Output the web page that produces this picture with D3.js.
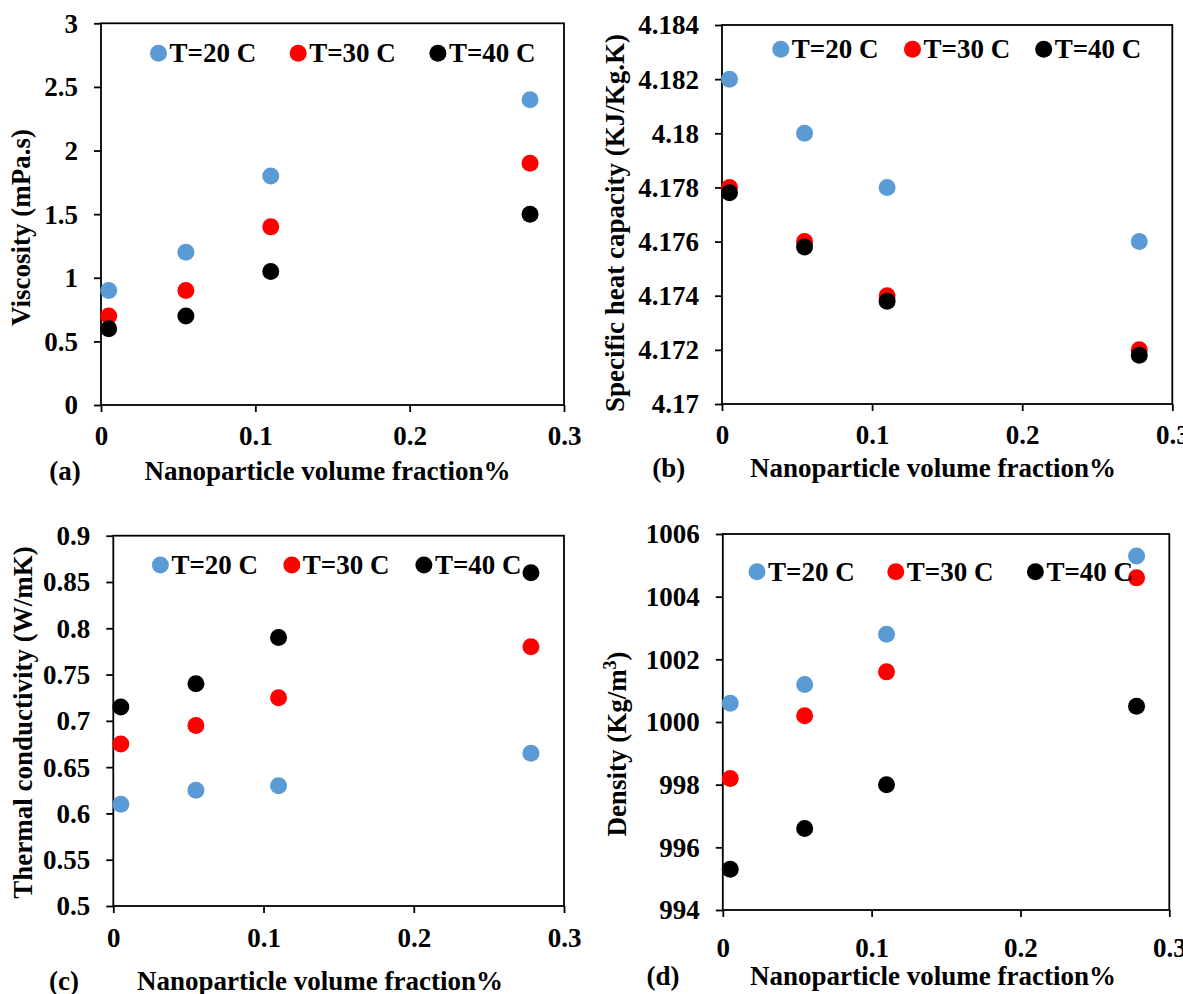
<!DOCTYPE html>
<html>
<head>
<meta charset="utf-8">
<script src="https://cdn.jsdelivr.net/npm/d3@7"></script>
<style>
  html, body { margin: 0; padding: 0; background: #ffffff; }
  svg { display: block; }
  text { font-family: "Liberation Serif", "Times New Roman", serif; font-weight: bold; fill: #000; }
</style>
</head>
<body>
<svg id="chart" width="1183" height="994"></svg>
<script>
// ---------------- data ----------------
const xValues = [0.005, 0.055, 0.11, 0.278];
const seriesNames = ["T=20 C", "T=30 C", "T=40 C"];
const seriesColors = ["#5B9BD5", "#FF0000", "#000000"];
const xTickValues = [0, 0.1, 0.2, 0.3];
const xTickLabels = ["0", "0.1", "0.2", "0.3"];

const viscosityT20 = [0.9, 1.2, 1.8, 2.4];
const viscosityT30 = [0.7, 0.9, 1.4, 1.9];
const viscosityT40 = [0.6, 0.7, 1.05, 1.5];
const viscosityTicks = [0, 0.5, 1, 1.5, 2, 2.5, 3];
const viscosityTickLabels = ["0", "0.5", "1", "1.5", "2", "2.5", "3"];

const heatCapT20 = [4.182, 4.180, 4.178, 4.176];
const heatCapT30 = [4.178, 4.176, 4.174, 4.172];
const heatCapT40 = [4.1778, 4.1758, 4.1738, 4.1718];
const heatCapTicks = [4.170, 4.172, 4.174, 4.176, 4.178, 4.180, 4.182, 4.184];
const heatCapTickLabels = ["4.17", "4.172", "4.174", "4.176", "4.178", "4.18", "4.182", "4.184"];

const conductivityT20 = [0.61, 0.625, 0.63, 0.665];
const conductivityT30 = [0.675, 0.695, 0.725, 0.78];
const conductivityT40 = [0.715, 0.74, 0.79, 0.86];
const conductivityTicks = [0.5, 0.55, 0.6, 0.65, 0.7, 0.75, 0.8, 0.85, 0.9];
const conductivityTickLabels = ["0.5", "0.55", "0.6", "0.65", "0.7", "0.75", "0.8", "0.85", "0.9"];

const densityT20 = [1000.6, 1001.2, 1002.8, 1005.3];
const densityT30 = [998.2, 1000.2, 1001.6, 1004.6];
const densityT40 = [995.3, 996.6, 998.0, 1000.5];
const densityTicks = [994, 996, 998, 1000, 1002, 1004, 1006];
const densityTickLabels = ["994", "996", "998", "1000", "1002", "1004", "1006"];

// ---------------- layout ----------------
const FS = 27;
const R = 8.5;
const panels = [
  { tag: "(a)", series: [viscosityT20, viscosityT30, viscosityT40],
    yTicks: viscosityTicks, yLabels: viscosityTickLabels, yTitle: ["Viscosity (mPa.s)"],
    x0: 101, x1: 564, y0: 23.3, y1: 405,
    yTitleX: 30, yTitleY: 227.5, xTitleX: 327.5, xTitleY: 480, tagX: 65,
    xLabelBase: 40, legendY: 53.3, legendX: [158.5, 298.2, 437.9] },
  { tag: "(b)", series: [heatCapT20, heatCapT30, heatCapT40],
    yTicks: heatCapTicks, yLabels: heatCapTickLabels, yTitle: ["Specific heat capacity (KJ/Kg.K)"],
    x0: 722, x1: 1172.3, y0: 25, y1: 404,
    yTitleX: 624, yTitleY: 223, xTitleX: 933, xTitleY: 476.5, tagX: 668.7,
    xLabelBase: 39.5, legendY: 49.3, legendX: [780.8, 912.5, 1043.7] },
  { tag: "(c)", series: [conductivityT20, conductivityT30, conductivityT40],
    yTicks: conductivityTicks, yLabels: conductivityTickLabels, yTitle: ["Thermal conductivity (W/mK)"],
    x0: 113.3, x1: 564, y0: 535.7, y1: 906,
    yTitleX: 32, yTitleY: 722.5, xTitleX: 320, xTitleY: 990, tagX: 64,
    xLabelBase: 40.5, legendY: 565, legendX: [160.4, 291.8, 423.9] },
  { tag: "(d)", series: [densityT20, densityT30, densityT40],
    yTicks: densityTicks, yLabels: densityTickLabels, yTitle: ["Density (Kg/m", "3", ")"],
    x0: 722.8, x1: 1169.3, y0: 534, y1: 910,
    yTitleX: 626, yTitleY: 744, xTitleX: 933, xTitleY: 985, tagX: 663,
    xLabelBase: 46.5, legendY: 571.7, legendX: [757, 895.8, 1035.4] }
];

const svg = d3.select("#chart");

panels.forEach(p => {
  const g = svg.append("g");
  const x = d3.scaleLinear().domain([xTickValues[0], xTickValues[xTickValues.length - 1]]).range([p.x0, p.x1]);
  const y = d3.scaleLinear().domain([p.yTicks[0], p.yTicks[p.yTicks.length - 1]]).range([p.y1, p.y0]);

  // y axis
  const yAxis = d3.axisLeft(y).tickValues(p.yTicks)
    .tickFormat((d, i) => p.yLabels[i]).tickSize(7).tickSizeOuter(0).tickPadding(16);
  const ya = g.append("g").attr("transform", `translate(${p.x0},0)`).call(yAxis);
  ya.select(".domain").remove();
  ya.selectAll("line").attr("stroke", "#000").attr("stroke-width", 1.8);
  ya.selectAll("text").style("font-size", FS + "px").attr("font-family", null).attr("dy", "0.33em");

  // x axis
  const xAxis = d3.axisBottom(x).tickValues(xTickValues)
    .tickFormat((d, i) => xTickLabels[i]).tickSize(7).tickSizeOuter(0).tickPadding(0);
  const xa = g.append("g").attr("transform", `translate(0,${p.y1})`).call(xAxis);
  xa.select(".domain").remove();
  xa.selectAll("line").attr("stroke", "#000").attr("stroke-width", 1.8);
  xa.selectAll("text").style("font-size", FS + "px").attr("font-family", null)
    .attr("y", p.xLabelBase).attr("dy", 0);

  // frame
  g.append("rect").attr("x", p.x0).attr("y", p.y0)
    .attr("width", p.x1 - p.x0).attr("height", p.y1 - p.y0)
    .attr("fill", "none").attr("stroke", "#000").attr("stroke-width", 1.8);

  // points
  p.series.forEach((vals, si) => {
    g.append("g").selectAll("circle").data(vals).join("circle")
      .attr("cx", (d, i) => x(xValues[i]))
      .attr("cy", d => y(d))
      .attr("r", R)
      .attr("fill", seriesColors[si]);
  });

  // legend
  seriesNames.forEach((name, si) => {
    g.append("circle").attr("cx", p.legendX[si]).attr("cy", p.legendY).attr("r", R)
      .attr("fill", seriesColors[si]);
    g.append("text").attr("x", p.legendX[si] + 11).attr("y", p.legendY).attr("dy", "0.33em")
      .style("font-size", FS + "px").text(name);
  });

  // y title
  const yt = g.append("text")
    .attr("transform", `translate(${p.yTitleX},${p.yTitleY}) rotate(-90)`)
    .attr("text-anchor", "middle").style("font-size", FS + "px");
  yt.append("tspan").text(p.yTitle[0]);
  if (p.yTitle.length > 1) {
    yt.append("tspan").attr("dy", -10).style("font-size", "18px").text(p.yTitle[1]);
    yt.append("tspan").attr("dy", 10).text(p.yTitle[2]);
  }

  // x title and panel tag
  g.append("text").attr("x", p.xTitleX).attr("y", p.xTitleY).attr("text-anchor", "middle")
    .style("font-size", FS + "px").text("Nanoparticle volume fraction%");
  g.append("text").attr("x", p.tagX).attr("y", p.xTitleY).attr("text-anchor", "middle")
    .style("font-size", FS + "px").text(p.tag);
});
</script>
</body>
</html>
